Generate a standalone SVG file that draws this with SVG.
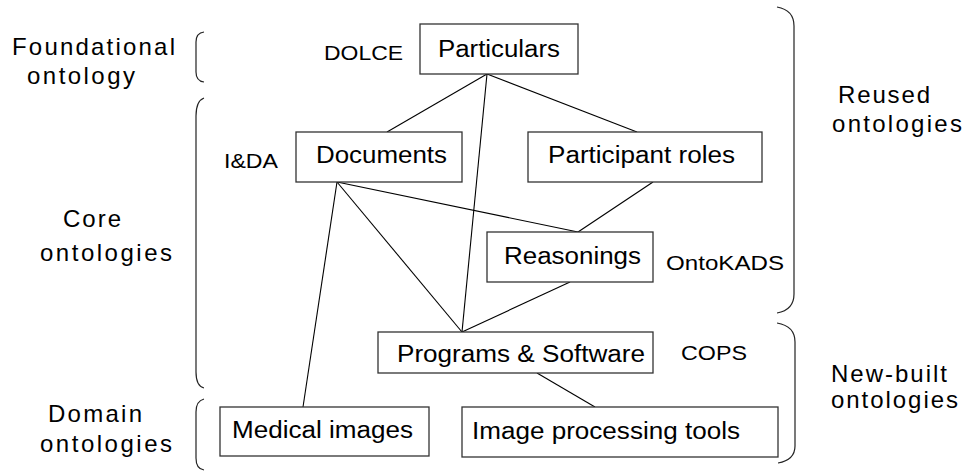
<svg xmlns="http://www.w3.org/2000/svg" width="966" height="472" viewBox="0 0 966 472">
<style>
  text { font-family: "Liberation Sans", Arial, sans-serif; fill: #000; }
  .box rect { fill: #fff; stroke: #333; stroke-width: 1.3; }
  .box text { font-size: 23px; }
  .lbl { font-size: 24px; }
  .src { font-size: 20px; }
  .conn line { stroke: #000; stroke-width: 1.1; }
  .brace { fill: none; stroke: #222; stroke-width: 1.2; }
</style>
<rect width="966" height="472" fill="#fff"/>

<g id="braces">
  <path class="brace" d="M204,32 Q196,33 196,42 L196,72 Q196,81 204,82"/>
  <path class="brace" d="M204,98 Q196,101 196,116 L196,372 Q196,386 204,388"/>
  <path class="brace" d="M204,399 Q196,401 196,412 L196,458 Q196,469 204,470"/>
  <path class="brace" d="M777,7 Q794,10 794,26 L794,294 Q794,310 777,313"/>
  <path class="brace" d="M777,323 Q795,326 795,342 L795,446 Q795,460 778,463"/>
</g>

<g id="side-labels">
  <text class="lbl" x="12" y="55" textLength="163" lengthAdjust="spacing">Foundational</text>
  <text class="lbl" x="27" y="84" textLength="108" lengthAdjust="spacing">ontology</text>
  <text class="lbl" x="63" y="227" textLength="58" lengthAdjust="spacing">Core</text>
  <text class="lbl" x="40" y="261" textLength="132" lengthAdjust="spacing">ontologies</text>
  <text class="lbl" x="48" y="422" textLength="94" lengthAdjust="spacing">Domain</text>
  <text class="lbl" x="40" y="452" textLength="132" lengthAdjust="spacing">ontologies</text>
  <text class="lbl" x="838" y="103" textLength="92" lengthAdjust="spacing">Reused</text>
  <text class="lbl" x="832" y="132" textLength="130" lengthAdjust="spacing">ontologies</text>
  <text class="lbl" x="831" y="382" textLength="116" lengthAdjust="spacing">New-built</text>
  <text class="lbl" x="831" y="408" textLength="127" lengthAdjust="spacing">ontologies</text>
</g>

<g id="source-labels">
  <text class="src" x="324" y="60" textLength="79" lengthAdjust="spacingAndGlyphs">DOLCE</text>
  <text class="src" x="224" y="168" textLength="54" lengthAdjust="spacingAndGlyphs">I&amp;DA</text>
  <text class="src" x="666" y="270" textLength="118" lengthAdjust="spacingAndGlyphs">OntoKADS</text>
  <text class="src" x="681" y="360" textLength="66" lengthAdjust="spacingAndGlyphs">COPS</text>
</g>

<g id="connectors" class="conn">
  <line x1="487" y1="74" x2="387" y2="132"/>
  <line x1="487" y1="74" x2="637" y2="132"/>
  <line x1="487" y1="74" x2="462" y2="332"/>
  <line x1="337" y1="182" x2="303" y2="407"/>
  <line x1="337" y1="182" x2="462" y2="332"/>
  <line x1="337" y1="182" x2="578" y2="232"/>
  <line x1="653" y1="182" x2="578" y2="232"/>
  <line x1="570" y1="282" x2="462" y2="332"/>
  <line x1="537" y1="373" x2="595" y2="407"/>
</g>

<g id="particulars" class="box">
  <rect x="420" y="24" width="158" height="50"/>
  <text x="438" y="57" textLength="122" lengthAdjust="spacingAndGlyphs">Particulars</text>
</g>
<g id="documents" class="box">
  <rect x="296" y="132" width="166" height="50"/>
  <text x="316" y="163" textLength="131" lengthAdjust="spacingAndGlyphs">Documents</text>
</g>
<g id="participant-roles" class="box">
  <rect x="528" y="132" width="234" height="50"/>
  <text x="548" y="163" textLength="187" lengthAdjust="spacingAndGlyphs">Participant roles</text>
</g>
<g id="reasonings" class="box">
  <rect x="487" y="232" width="166" height="50"/>
  <text x="504" y="264" textLength="137" lengthAdjust="spacingAndGlyphs">Reasonings</text>
</g>
<g id="programs-software" class="box">
  <rect x="378" y="332" width="275" height="41"/>
  <text x="397" y="362" textLength="248" lengthAdjust="spacingAndGlyphs">Programs &amp; Software</text>
</g>
<g id="medical-images" class="box">
  <rect x="220" y="407" width="209" height="49"/>
  <text x="232" y="438" textLength="181" lengthAdjust="spacingAndGlyphs">Medical images</text>
</g>
<g id="image-processing-tools" class="box">
  <rect x="462" y="407" width="316" height="50"/>
  <text x="472" y="439" textLength="268" lengthAdjust="spacingAndGlyphs">Image processing tools</text>
</g>
</svg>
